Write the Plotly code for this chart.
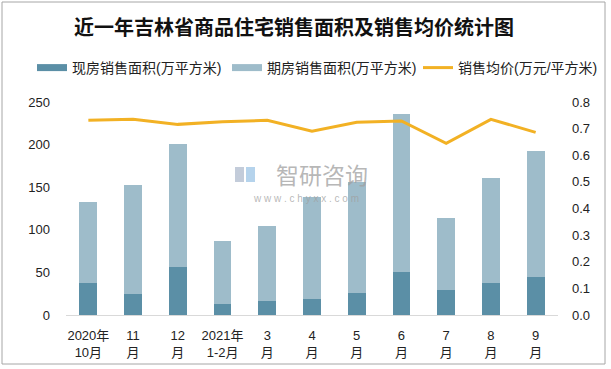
import plotly.graph_objects as go

categories = ["2020年<br>10月", "11<br>月", "12<br>月", "2021年<br>1-2月", "3<br>月", "4<br>月",
              "5<br>月", "6<br>月", "7<br>月", "8<br>月", "9<br>月"]
spot_area = [37.9, 24.6, 56.3, 12.9, 16.4, 18.8, 25.8, 50.5, 29.3, 37.6, 44.6]
future_area = [94.4, 128.0, 144.4, 73.6, 88.1, 119.2, 130.2, 185.5, 84.5, 123.2, 147.9]
avg_price = [0.731, 0.735, 0.716, 0.726, 0.731, 0.690, 0.724, 0.729, 0.645, 0.735, 0.686]

names = ["现房销售面积(万平方米)", "期房销售面积(万平方米)", "销售均价(万元/平方米)"]
DARK, LIGHT, ORANGE = "#5B8FA6", "#9EBCCA", "#F2B124"
FONT = "Liberation Sans, Noto Sans CJK SC, sans-serif"

# plot area in pixels: left 66, right 558, top 102, bottom 315
L, R, T, B = 66, 558, 102, 315
PW, PH = R - L, B - T
def px(x):
    return (x - L) / PW
def py(y):
    return (B - y) / PH

fig = go.Figure()
fig.add_trace(go.Bar(x=categories, y=spot_area, name=names[0], showlegend=False,
                     marker=dict(color=DARK, line=dict(width=0))))
fig.add_trace(go.Bar(x=categories, y=future_area, name=names[1], showlegend=False,
                     marker=dict(color=LIGHT, line=dict(width=0))))
# legend-only entries with wide rectangular swatches
fig.add_trace(go.Scatter(x=[None], y=[None], name=names[0], mode="lines",
                         line=dict(color=DARK, width=7), legend="legend"))
fig.add_trace(go.Scatter(x=[None], y=[None], name=names[1], mode="lines",
                         line=dict(color=LIGHT, width=7), legend="legend2"))
fig.add_trace(go.Scatter(x=categories, y=avg_price, name=names[2], yaxis="y2",
                         mode="lines", line=dict(color=ORANGE, width=3), legend="legend3"))

def leg(x0):
    return dict(orientation="h", x=px(x0), xanchor="left", y=py(68), yanchor="middle",
                font=dict(size=14, color="#222222"), itemwidth=30,
                bgcolor="rgba(0,0,0,0)", borderwidth=0)

fig.update_layout(
    width=611, height=369,
    margin=dict(l=L, r=611 - R, t=T, b=369 - B, autoexpand=False),
    paper_bgcolor="white", plot_bgcolor="rgba(0,0,0,0)",
    barmode="stack", bargap=0.6,
    font=dict(family=FONT, size=13, color="#222222"),
    title=dict(text="<b>近一年吉林省商品住宅销售面积及销售均价统计图</b>",
               x=294 / 611, xanchor="center", y=1 - 28 / 369, yanchor="middle",
               font=dict(family="Noto Sans CJK SC, sans-serif", size=20, color="#111111")),
    legend=leg(32), legend2=leg(227), legend3=leg(418),
    xaxis=dict(showgrid=False, showline=True, linecolor="#D9D9D9", linewidth=1,
               ticks="", tickfont=dict(size=13), ticklabelstandoff=8, automargin=False),
    yaxis=dict(range=[0, 250], dtick=50, showgrid=False, zeroline=False, automargin=False,
               showline=False, ticks="", tickfont=dict(size=13), ticklabelstandoff=15),
    yaxis2=dict(range=[0, 0.8], dtick=0.1, tickformat=".1f", overlaying="y", side="right",
                showgrid=False, zeroline=False, showline=False, ticks="", automargin=False,
                tickfont=dict(size=13), ticklabelstandoff=13),
    shapes=[
        dict(type="rect", xref="paper", yref="paper",
             x0=px(2), x1=px(605), y0=py(364), y1=py(2),
             line=dict(color="#A6A6A6", width=1), fillcolor="rgba(0,0,0,0)", layer="below"),
        # watermark logo
        dict(type="rect", xref="paper", yref="paper", x0=px(235), x1=px(244), y0=py(182), y1=py(167),
             line=dict(width=0), fillcolor="#C3CCDA", layer="below"),
        dict(type="rect", xref="paper", yref="paper", x0=px(246), x1=px(255), y0=py(182), y1=py(167),
             line=dict(width=0), fillcolor="#B5D3EC", layer="below"),
    ],
    annotations=[
        dict(text="智研咨询", xref="paper", yref="paper", x=px(322), y=py(174),
             xanchor="center", yanchor="middle", showarrow=False,
             font=dict(family="Noto Sans CJK SC, sans-serif", size=23, color="rgba(160,160,160,0.75)")),
        dict(text="w w w . c h y x x . c o m", xref="paper", yref="paper", x=px(306), y=py(198),
             xanchor="center", yanchor="middle", showarrow=False,
             font=dict(family=FONT, size=10, color="rgba(160,160,160,0.75)")),
    ],
)

fig.write_html("out.html", config={"displayModeBar": False},
               post_script="document.body.style.margin='0';document.body.style.overflow='hidden';")
